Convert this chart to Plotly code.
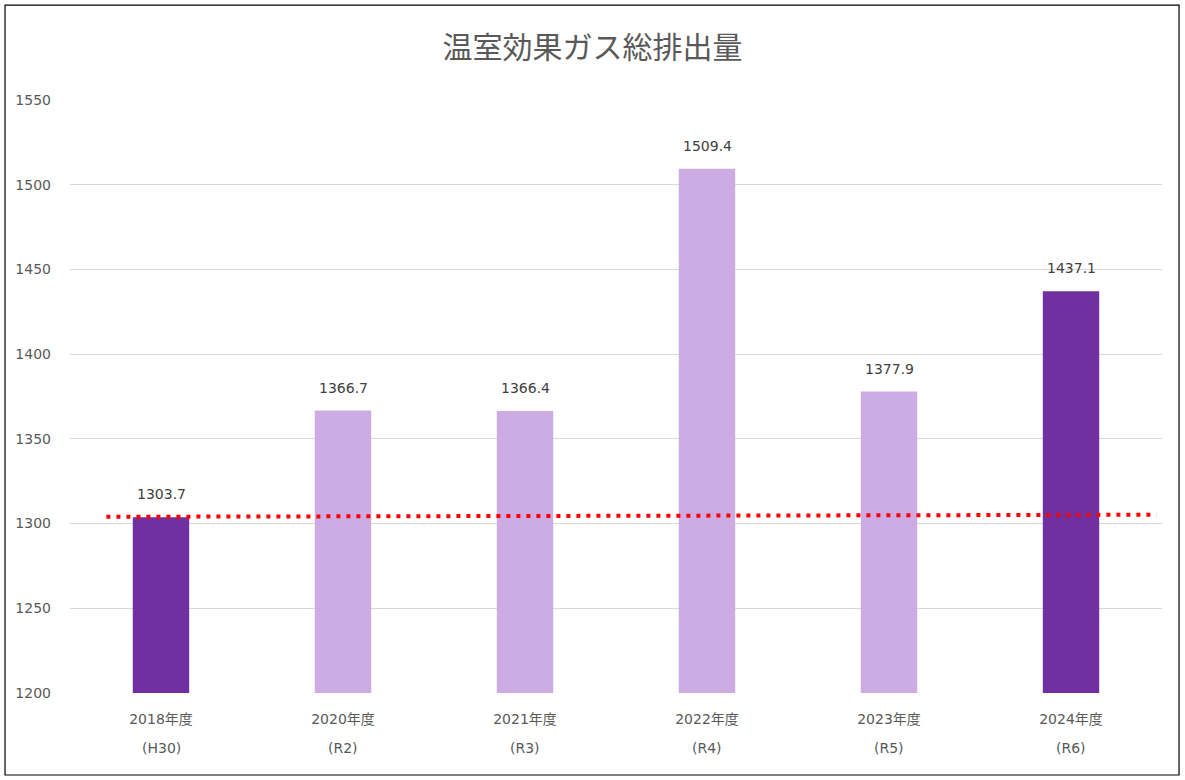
import plotly.graph_objects as go

years = ["2018年度", "2020年度", "2021年度", "2022年度", "2023年度", "2024年度"]
eras = ["(H30)", "(R2)", "(R3)", "(R4)", "(R5)", "(R6)"]
values = [1303.7, 1366.7, 1366.4, 1509.4, 1377.9, 1437.1]
highlight = [True, False, False, False, False, True]
ref_line = [1304.0, 1305.2]
y_ticks = [1200, 1250, 1300, 1350, 1400, 1450, 1500, 1550]

DARK = "#7030A0"
LIGHT = "#CDACE4"
FONT = "DejaVu Sans, Noto Sans CJK JP"
GREY = "#595959"

colors = [DARK if h else LIGHT for h in highlight]

fig = go.Figure()
fig.add_trace(go.Bar(
    x=years, y=values, marker=dict(color=colors, line=dict(width=0)),
    showlegend=False, hoverinfo="x+y",
))

for yr, v in zip(years, values):
    fig.add_annotation(x=yr, y=v, xref="x", yref="y", text=f"{v:.1f}",
                       showarrow=False, yshift=23, yanchor="middle",
                       font=dict(family=FONT, size=14, color="#404040"))

for yr, era in zip(years, eras):
    fig.add_annotation(x=yr, xref="x", y=-0.0927, yref="paper", text=era,
                       showarrow=False, font=dict(family=FONT, size=14, color=GREY),
                       yanchor="middle")

fig.add_shape(type="line", xref="x", yref="y", x0=-0.3, x1=5.47,
              y0=ref_line[0], y1=ref_line[1],
              line=dict(color="#FF0000", width=4, dash="4px,6px"))

fig.add_shape(type="rect", xref="paper", yref="paper",
              x0=-0.0595, x1=1.0156, y0=-0.1383, y1=1.160,
              line=dict(color="#000000", width=1.2), fillcolor="rgba(0,0,0,0)")

fig.update_layout(
    width=1185, height=780,
    margin=dict(l=70, r=23, t=100, b=87),
    paper_bgcolor="white", plot_bgcolor="white",
    bargap=0.69,
    title=dict(text="温室効果ガス総排出量", x=0.5, xanchor="center", y=1 - 47 / 780, yanchor="middle",
               font=dict(family=FONT, size=30, color=GREY)),
    font=dict(family=FONT, color=GREY, size=14),
    xaxis=dict(showgrid=False, showline=False, ticks="", tickfont=dict(size=14, color=GREY),
               ticklabelstandoff=16),
    yaxis=dict(range=[1200, 1550], tickvals=y_ticks, showgrid=True, gridcolor="#D9D9D9",
               gridwidth=1, zeroline=False, showline=False, ticks="",
               tickfont=dict(size=14, color=GREY), ticklabelstandoff=18),
)

fig.write_html(
    "out.html",
    config={"displayModeBar": False},
    post_script="document.body.style.margin='0';document.body.style.overflow='hidden';",
)
